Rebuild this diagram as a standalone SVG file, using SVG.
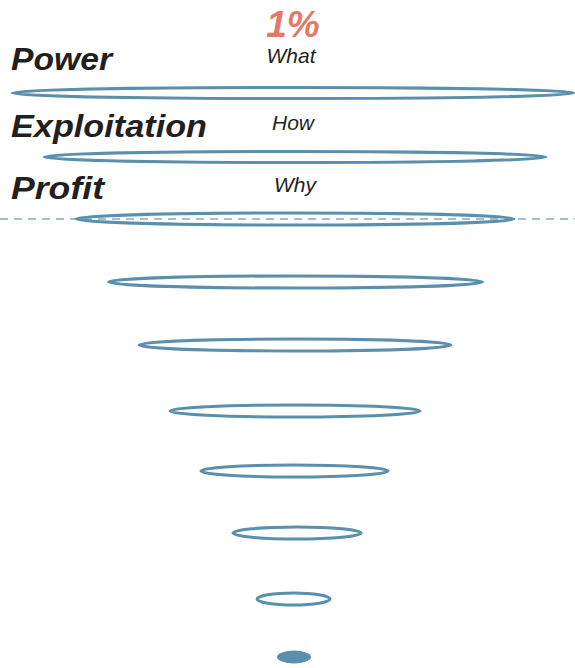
<svg xmlns="http://www.w3.org/2000/svg" width="575" height="668" viewBox="0 0 575 668">
<style>
.ring{fill:none;stroke:#5b8fae;stroke-width:3}
.lbl{font-family:"Liberation Sans",Arial,sans-serif;font-weight:bold;font-style:italic;font-size:32px;fill:#231f20}
.sub{font-family:"Liberation Sans",Arial,sans-serif;font-style:italic;font-size:21px;fill:#231f20;text-anchor:middle}
.pct{font-family:"Liberation Sans",Arial,sans-serif;font-weight:bold;font-style:italic;font-size:37px;fill:#e37a68;text-anchor:middle}
</style>
<rect width="575" height="668" fill="#ffffff"/>
<g id="divider">
<line x1="0" y1="219" x2="575" y2="219" stroke="#a3bfd0" stroke-width="2" stroke-dasharray="8,6"/>
</g>
<g id="labels">
<text class="pct" x="293" y="37">1%</text>
<text class="sub" x="291" y="63">What</text>
<text class="sub" x="293" y="130">How</text>
<text class="sub" x="295" y="192">Why</text>
<text class="lbl" x="11" y="70" textLength="101" lengthAdjust="spacingAndGlyphs">Power</text>
<text class="lbl" x="11" y="137" textLength="196" lengthAdjust="spacingAndGlyphs">Exploitation</text>
<text class="lbl" x="11" y="199" textLength="93" lengthAdjust="spacingAndGlyphs">Profit</text>
</g>
<g id="rings">
<ellipse id="ring1" class="ring" cx="293" cy="93" rx="281" ry="5.5"/>
<ellipse id="ring2" class="ring" cx="295" cy="157" rx="251" ry="5.5"/>
<ellipse id="ring3" class="ring" cx="295" cy="219" rx="219" ry="6"/>
<ellipse id="ring4" class="ring" cx="295.5" cy="282" rx="187" ry="6"/>
<ellipse id="ring5" class="ring" cx="295" cy="345" rx="156" ry="6"/>
<ellipse id="ring6" class="ring" cx="295" cy="411" rx="125" ry="6"/>
<ellipse id="ring7" class="ring" cx="294.5" cy="471" rx="93.5" ry="6"/>
<ellipse id="ring8" class="ring" cx="297" cy="533" rx="64" ry="6"/>
<ellipse id="ring9" class="ring" cx="293.5" cy="599" rx="36.5" ry="6"/>
<ellipse id="ring10" cx="294" cy="657" rx="17" ry="6.5" fill="#5b8fae"/>
</g>
</svg>
